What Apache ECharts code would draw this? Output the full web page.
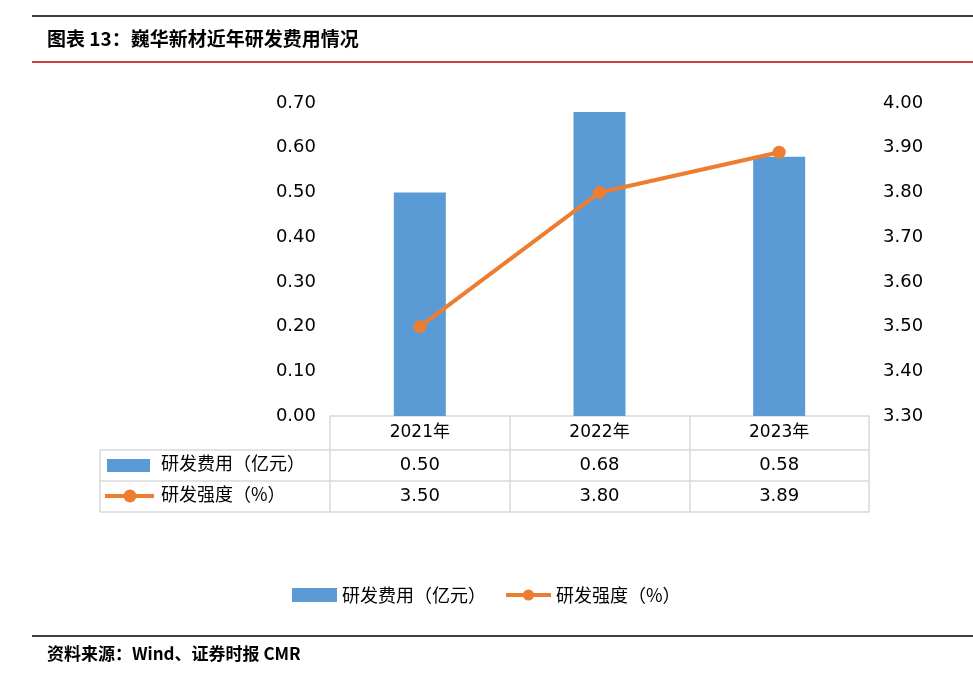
<!DOCTYPE html>
<html><head><meta charset="utf-8">
<script src="https://cdn.jsdelivr.net/npm/echarts@6/dist/echarts.min.js"></script>
<style>html,body{margin:0;padding:0;background:#fff}#c{width:973px;height:676px}</style>
</head><body><div id="c"></div>
<script>
const categories = ['2021年', '2022年', '2023年'];
const rdExpense = [0.50, 0.68, 0.58];
const rdIntensity = [3.50, 3.80, 3.89];
const seriesNames = ['研发费用（亿元）', '研发强度（%）'];
const titleText = '图表 13：巍华新材近年研发费用情况';
const sourceText = '资料来源：Wind、证券时报 CMR';

const FONT = "'DejaVu Sans','Noto Sans CJK SC',sans-serif";
const CJK = "'Noto Sans CJK SC',sans-serif";
const BLUE = '#5B9BD5', ORANGE = '#ED7D31', GRID = '#D9D9D9';

const chart = echarts.init(document.getElementById('c'));
const gl = 330, gr = 869, gTop = 103, gBot = 416;
const rowLines = [450, 481, 512];

const graphics = [
  {type:'line', shape:{x1:32,y1:16,x2:973,y2:16}, style:{stroke:'#000',lineWidth:1.5}},
  {type:'line', shape:{x1:32,y1:62,x2:973,y2:62}, style:{stroke:'#C00000',lineWidth:1.5}},
  {type:'line', shape:{x1:32,y1:636,x2:973,y2:636}, style:{stroke:'#000',lineWidth:1.5}},
  {type:'text', left:47, top:29, style:{text:titleText, font:"bold 19px "+CJK, fill:'#000'}},
  {type:'text', left:47, top:645, style:{text:sourceText, font:"bold 17px "+CJK, fill:'#000'}},
  {type:'line', shape:{x1:100,y1:450,x2:100,y2:512}, style:{stroke:GRID,lineWidth:1.5}}
];
rowLines.forEach(y => graphics.push({type:'line', shape:{x1:100,y1:y,x2:gr,y2:y}, style:{stroke:GRID,lineWidth:1.5}}));
graphics.push({type:'rect', shape:{x:107,y:459,width:43,height:13}, style:{fill:BLUE}});
graphics.push({type:'text', left:161, top:454, style:{text:seriesNames[0], font:"18px "+CJK, fill:'#000'}});
graphics.push({type:'line', shape:{x1:105,y1:496,x2:154,y2:496}, style:{stroke:ORANGE,lineWidth:4}});
graphics.push({type:'circle', shape:{cx:130,cy:496,r:6.5}, style:{fill:ORANGE}});
graphics.push({type:'text', left:161, top:485, style:{text:seriesNames[1], font:"18px "+CJK, fill:'#000'}});

chart.setOption({
  animation:false,
  grid:{left:gl, right:973-gr, top:gTop, bottom:676-gBot, containLabel:false},
  legend:{
    top:581, left:287, itemWidth:45, itemHeight:14, itemGap:18,
    textStyle:{fontFamily:CJK, fontSize:18, color:'#000'},
    data:[{name:seriesNames[0], icon:'rect'},
          {name:seriesNames[1], lineStyle:{width:4, color:ORANGE}, itemStyle:{color:ORANGE}}]
  },
  xAxis:{
    type:'category', data:categories,
    axisLine:{show:true, lineStyle:{color:GRID, width:1.5}},
    axisTick:{show:true, length:96, lineStyle:{color:GRID, width:1.5}},
    axisLabel:{
      margin:0, color:'#000', fontFamily:FONT, fontSize:17,
      formatter:function(v, i){
        return '{a|' + v + '}\n{b|' + rdExpense[i].toFixed(2) + '}\n{b|' + rdIntensity[i].toFixed(2) + '}';
      },
      rich:{
        a:{lineHeight:34, fontSize:17, fontFamily:FONT, color:'#000'},
        b:{lineHeight:31, fontSize:18, fontFamily:FONT, color:'#000'}
      }
    }
  },
  yAxis:[
    {type:'value', min:0, max:0.7, interval:0.1, position:'left',
     axisLine:{show:false}, axisTick:{show:false}, splitLine:{show:false},
     axisLabel:{margin:14, color:'#000', fontFamily:FONT, fontSize:18, formatter:v=>v.toFixed(2)}},
    {type:'value', min:3.3, max:4.0, interval:0.1, position:'right',
     axisLine:{show:false}, axisTick:{show:false}, splitLine:{show:false},
     axisLabel:{margin:14, color:'#000', fontFamily:FONT, fontSize:18, formatter:v=>v.toFixed(2)}}
  ],
  series:[
    {name:seriesNames[0], type:'bar', data:rdExpense, barWidth:52, itemStyle:{color:BLUE}, yAxisIndex:0},
    {name:seriesNames[1], type:'line', data:rdIntensity, yAxisIndex:1, symbol:'circle', symbolSize:13,
     lineStyle:{color:ORANGE, width:4}, itemStyle:{color:ORANGE}}
  ],
  graphic:graphics
});
</script></body></html>
